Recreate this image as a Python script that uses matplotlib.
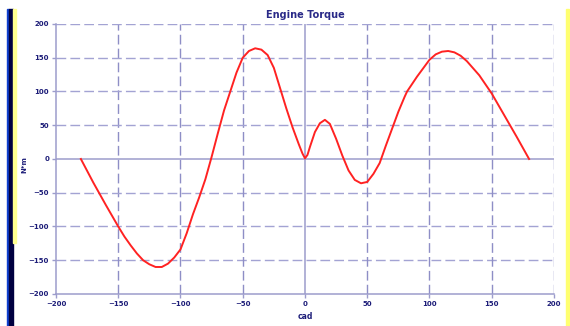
import numpy as np
import matplotlib.pyplot as plt
from matplotlib.patches import Rectangle

# crank angle (deg) and torque (N*m)
cad = [-180, -170, -160, -150, -145, -140, -135, -130, -125, -120, -115,
       -110, -105, -100, -95, -90, -85, -80, -75, -70, -65, -60, -55, -50,
       -45, -40, -35, -30, -25, -20, -15, -10, -5, -2, 0, 2, 4, 8, 12, 16,
       20, 25, 30, 35, 40, 45, 50, 55, 60, 65, 70, 75, 80, 82, 90, 100, 105,
       110, 115, 120, 125, 130, 140, 150, 160, 170, 180]
torque = [0, -35, -68, -100, -115, -128, -140, -150, -156, -160, -160,
          -155, -146, -134, -110, -82, -57, -30, 3, 38, 72, 100, 128, 150,
          160, 164, 162, 154, 135, 105, 75, 47, 22, 8, 1, 6, 18, 40, 53, 58,
          52, 30, 5, -17, -31, -36, -34, -22, -6, 20, 45, 70, 92, 100, 122,
          147, 155, 159, 160, 158, 153, 145, 124, 97, 65, 33, 0]

ticks = [-200, -150, -100, -50, 0, 50, 100, 150, 200]

GRID = '#a3a3d3'
AXC = '#9c9ccc'
TXT = '#1c1c78'

fig = plt.figure(figsize=(5.70, 3.26), dpi=100)
ax = fig.add_axes([0.0982, 0.0982, 0.8737, 0.8282])

# frame decorations
fig.patches.append(Rectangle((7 / 570, 0), 2 / 570, 317 / 326, transform=fig.transFigure,
                             color='#1040d0', zorder=0))
fig.patches.append(Rectangle((9 / 570, 0), 4 / 570, 317 / 326, transform=fig.transFigure,
                             color='#000040', zorder=0))
fig.patches.append(Rectangle((13 / 570, 83 / 326), 3 / 570, 234 / 326, transform=fig.transFigure,
                             color='#ffff90', zorder=0))
fig.patches.append(Rectangle((566 / 570, 0), 3 / 570, 317 / 326, transform=fig.transFigure,
                             color='#ffff70', zorder=0))

ax.set_xlim(-200, 200)
ax.set_ylim(-200, 200)
ax.set_xticks(ticks)
ax.set_yticks(ticks)

for t in ticks[1:]:
    if t == 0:
        ax.axhline(0, color=AXC, lw=1.1, zorder=1)
        ax.axvline(0, color=AXC, lw=1.1, zorder=1)
    else:
        ax.axhline(t, color=GRID, lw=1.0, ls=(0, (7, 3)), zorder=1)
        ax.axvline(t, color='#8e8ec6', lw=1.0, ls=(0, (7, 3)), zorder=1)

for s in ['top', 'right']:
    ax.spines[s].set_visible(False)
for s in ['left', 'bottom']:
    ax.spines[s].set_color(AXC)
    ax.spines[s].set_linewidth(1.1)

ax.tick_params(length=3, width=1, color=AXC, labelsize=5, labelcolor=TXT, pad=2)
for lab in ax.get_xticklabels() + ax.get_yticklabels():
    lab.set_fontweight('bold')

ax.plot(cad, torque, color='#ff2222', lw=1.4, zorder=3)

ax.set_title('Engine Torque', fontsize=7, color='#2a2a88', fontweight='bold', pad=4)
ax.set_xlabel('cad', fontsize=5.5, color=TXT, fontweight='bold', labelpad=4)
ax.set_ylabel('N*m', fontsize=5, color=TXT, fontweight='bold')
ax.yaxis.set_label_coords(-0.058, 0.48)

fig.savefig('out.png', dpi=100)
